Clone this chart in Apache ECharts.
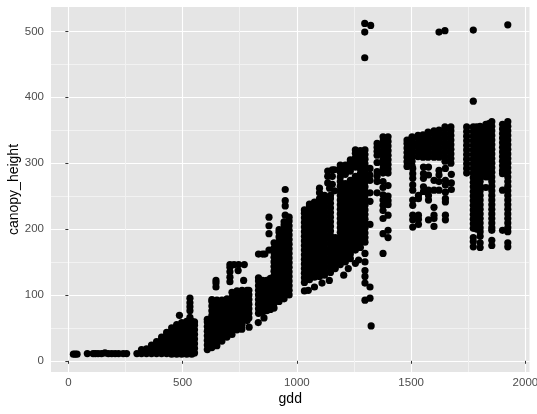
<!DOCTYPE html>
<html>
<head>
<meta charset="utf-8">
<script src="https://cdn.jsdelivr.net/npm/echarts@6/dist/echarts.min.js"></script>
<style>
  html, body { margin: 0; padding: 0; background: #fff; }
  #chart { width: 537px; height: 414px; }
</style>
</head>
<body>
<div id="chart"></div>
<script>
// tick positions
const xTicks = [0, 500, 1000, 1500, 2000];
const xMinorTicks = [250, 750, 1250, 1750];
const yTicks = [0, 100, 200, 300, 400, 500];
const yMinorTicks = [50, 150, 250, 350, 450];

// columns of points: one gdd, many canopy heights
const flatGdd = [22, 30, 38, 83, 108, 118, 130, 145, 160, 175, 190, 205, 220, 240, 255];
const flatHeights = [[10], [10], [10], [11], [11], [11], [11], [11], [12], [11], [11], [11], [11], [11], [11]];

const rampGdd = [300, 320, 342, 364, 386, 408, 430, 452, 474, 496, 518, 540, 552];
const rampHeights = [
  [11],
  [11, 17],
  [11, 18],
  [11, 17, 24],
  [11, 18, 25, 29],
  [11, 18, 25, 32, 36],
  [11, 18, 25, 32, 39, 43],
  [10, 17, 24, 31, 38, 45, 50],
  [10, 17, 24, 31, 38, 45, 52, 55],
  [10, 17, 24, 31, 38, 45, 52, 58],
  [10, 17, 24, 31, 38, 45, 52, 59, 60],
  [10, 17, 24, 31, 38, 45, 52, 59, 60],
  [12, 19, 26, 33, 40, 47, 54, 59]
];

const secondGdd = [608, 628, 650, 672, 694, 716, 738, 760, 782, 790];
const secondHeights = [
  [17, 24, 31, 38, 45, 52, 59, 63],
  [20, 27, 34, 41, 48, 55, 62, 69, 76, 83, 90, 93],
  [23, 30, 37, 44, 51, 58, 65, 72, 79, 86, 92],
  [30, 37, 44, 51, 58, 65, 72, 79, 86, 92],
  [36, 43, 50, 57, 64, 71, 78, 85, 92, 94],
  [40, 47, 54, 61, 68, 75, 82, 89, 96, 104],
  [47, 54, 61, 68, 75, 82, 89, 96, 103, 106],
  [55, 62, 69, 76, 83, 90, 97, 104, 107],
  [61, 68, 75, 82, 89, 96, 103, 107],
  [65, 72, 79, 86, 93, 100, 107]
];

const thirdGdd = [832, 850, 868, 884, 900, 922, 944, 966];
const thirdHeights = [
  [72, 79, 86, 93, 100, 107, 114, 121, 126],
  [74, 81, 88, 95, 102, 109, 116, 122],
  [76, 83, 90, 97, 104, 111, 118, 122],
  [78, 85, 92, 99, 106, 113, 120, 125],
  [80, 87, 94, 101, 108, 115, 122, 129, 136, 143, 150, 157, 164, 171, 179],
  [90, 97, 104, 111, 118, 125, 132, 139, 146, 153, 160, 167, 174, 181, 188, 195, 199],
  [94, 101, 108, 115, 122, 129, 136, 143, 150, 157, 164, 171, 178, 185, 192, 199, 206, 211],
  [100, 107, 114, 121, 128, 135, 142, 149, 156, 163, 170, 177, 184, 191, 198, 205, 212, 218]
];

const fourthGdd = [1033, 1055, 1077, 1099, 1121, 1147, 1168];
const fourthHeights = [
  [119, 126, 133, 140, 147, 154, 161, 168, 175, 182, 189, 196, 203, 210, 217, 224, 229],
  [123, 130, 137, 144, 151, 158, 165, 172, 179, 186, 193, 200, 207, 214, 221, 228, 235, 238],
  [127, 134, 141, 148, 155, 162, 169, 176, 183, 190, 197, 204, 211, 218, 225, 232, 239, 241],
  [128, 135, 142, 149, 156, 163, 170, 177, 184, 191, 198, 205, 212, 219, 226, 233, 240, 246],
  [130, 137, 144, 151, 158, 165, 172, 179, 186, 193, 200, 207, 214, 221, 228, 235, 242, 249, 251],
  [134, 141, 148, 155, 162, 169, 176, 183, 190, 197, 204, 211, 218, 225, 232, 239, 246, 251],
  [140, 147, 154, 161, 168, 175, 182, 187]
];

const fifthGdd = [1190, 1212, 1234, 1256, 1278, 1298];
const fifthHeights = [
  [146, 153, 160, 167, 174, 181, 188, 195, 202, 209, 216, 223, 230, 237, 244, 251, 258, 265, 272, 279, 286, 293, 297],
  [150, 157, 164, 171, 178, 185, 192, 199, 206, 213, 220, 227, 234, 241, 248, 255, 262, 269, 283, 290, 297],
  [155, 162, 169, 176, 183, 190, 197, 204, 211, 218, 225, 232, 239, 246, 253, 260, 267, 274, 288, 295, 302, 305],
  [168, 175, 182, 189, 196, 203, 210, 217, 224, 231, 238, 245, 252, 259, 266, 273, 280, 294, 301, 308, 315, 320],
  [172, 179, 186, 193, 200, 207, 214, 221, 228, 235, 242, 249, 256, 263, 270, 277, 284, 291, 298, 305, 312, 319],
  [180, 187, 194, 201, 208, 215, 222, 229, 236, 243, 250, 257, 264, 271, 278, 285, 292, 299, 306, 313, 320]
];

const sixthGdd = [1320, 1351, 1377, 1399];
const sixthHeights = [
  [292, 282, 274, 255, 242, 207, 112, 95],
  [330, 324, 318, 312, 301, 287, 280, 272, 255],
  [340, 333, 326, 319, 312, 305, 298, 291, 285, 272, 263, 252, 244, 236, 228, 216, 193, 163],
  [340, 333, 326, 319, 312, 305, 298, 291, 285, 266, 250, 243, 237, 221, 198, 187]
];

const seventhGdd = [1482, 1504, 1507, 1530, 1532, 1552, 1554, 1574, 1576, 1600, 1622, 1648, 1650, 1674, 1676];
const seventhHeights = [
  [295, 302, 309, 316, 323, 330, 335],
  [296, 303, 310, 317, 324, 331, 338, 340],
  [292, 284, 277, 267, 259, 244, 236, 221, 214, 203],
  [310, 317, 324, 331, 338, 342],
  [251, 246, 221, 215, 207],
  [309, 316, 323, 330, 337, 343],
  [294, 284, 277, 264, 257],
  [309, 316, 323, 330, 337, 344, 347],
  [294, 282, 259, 251, 244, 214],
  [309, 316, 323, 330, 337, 344, 349, 274, 259, 233, 221, 216, 204],
  [309, 316, 323, 330, 337, 344, 350, 289, 282, 272, 259],
  [303, 310, 317, 324, 331, 338, 345, 352, 355],
  [292, 274, 267, 256, 246, 241, 221, 214],
  [300, 307, 314, 321, 328, 335, 342, 349, 355],
  [283, 270, 260]
];

const eighthGdd = [1743, 1772, 1787, 1802, 1827, 1840, 1853, 1900, 1923];
const eighthHeights = [
  [355, 348, 341, 334, 327, 320, 313, 306, 299, 292, 285],
  [355, 348, 341, 334, 327, 320, 313, 306, 299, 292, 285, 278, 271, 264, 257, 250, 243, 236, 229, 222, 215, 208, 201, 187, 181, 173],
  [355, 348, 341, 334, 327, 320, 313, 306, 299, 292, 285, 278, 271, 264, 257, 250, 243, 236, 229, 222, 215, 208, 200],
  [356, 349, 342, 335, 328, 321, 314, 307, 300, 293, 286, 279, 272, 265, 258, 251, 244, 237, 230, 223, 216, 209, 202, 196, 189, 179, 172],
  [359, 352, 345, 338, 331, 324, 317, 310, 303, 296, 289, 282, 279, 263],
  [360, 353, 346, 339, 332, 325, 318, 311, 304, 297, 290, 283, 279],
  [363, 356, 349, 342, 335, 328, 321, 314, 307, 300, 293, 286, 279, 272, 265, 258, 251, 244, 237, 230, 223, 216, 209, 202, 198, 183, 175],
  [359, 352, 345, 338, 331, 324, 317, 310, 303, 296, 289, 284, 259, 198],
  [363, 356, 349, 342, 335, 328, 321, 314, 307, 300, 293, 286, 279, 272, 265, 258, 251, 244, 237, 230, 223, 216, 209, 202, 196, 179, 173]
];

// single points around the blocks
const looseGdd = [486, 532, 532, 532, 532, 532, 646, 646, 646, 707, 707, 707, 707, 707, 725, 745, 770, 743, 767, 791, 759,
  831, 856, 832, 850, 860, 878, 878, 878, 878, 949, 949, 949, 949,
  1033, 1050, 1077, 1110, 1142, 1099, 1099, 1135, 1135, 1135, 1143, 1155, 1155, 1155, 1165, 1165,
  1256, 1270, 1298, 1298, 1205, 1225, 1298, 1298, 1298, 1298, 1325,
  1297, 1323, 1297, 1297, 1622, 1648, 1772, 1923, 1772];
const looseHeights = [69, 66, 76, 82, 88, 95, 112, 118, 122, 120, 127, 135, 142, 146, 146, 146, 146, 137, 122, 51, 48,
  58, 65, 162, 162, 162, 168, 193, 205, 218, 221, 235, 243, 260,
  106, 107, 112, 118, 122, 262, 255, 288, 280, 270, 262, 290, 280, 268, 258, 290,
  148, 153, 163, 150, 130, 140, 137, 128, 118, 92, 53,
  512, 509, 499, 460, 499, 501, 502, 510, 394];

const columns = [
  [flatGdd, flatHeights], [rampGdd, rampHeights], [secondGdd, secondHeights], [thirdGdd, thirdHeights],
  [fourthGdd, fourthHeights], [fifthGdd, fifthHeights], [sixthGdd, sixthHeights],
  [seventhGdd, seventhHeights], [eighthGdd, eighthHeights]
];

let points = [];
columns.forEach(function (c) {
  c[0].forEach(function (g, i) {
    c[1][i].forEach(function (h) { points.push([g, h]); });
  });
});
looseGdd.forEach(function (g, i) { points.push([g, looseHeights[i]]); });

const labelFont = 'Liberation Sans';
const xRange = { min: -76, max: 2018 };
const yRange = { min: -17, max: 537 };
const plainLabel = function (v) { return String(v); };

let chart = echarts.init(document.getElementById('chart'), null, { renderer: 'canvas' });
chart.setOption({
  animation: false,
  backgroundColor: '#fff',
  grid: { left: 51, top: 7, width: 478.5, height: 365, backgroundColor: '#E5E5E5', show: true, borderWidth: 0, outerBoundsMode: 'none' },
  xAxis: [
    {
      type: 'value', min: xRange.min, max: xRange.max, name: 'gdd', nameLocation: 'middle', nameGap: 20, nameMoveOverlap: false,
      nameTextStyle: { color: '#000', fontFamily: labelFont, fontSize: 14 },
      axisLine: { show: false },
      axisTick: { show: true, length: 3, customValues: xTicks, lineStyle: { color: '#333', width: 1 } },
      axisLabel: { customValues: xTicks, formatter: plainLabel, color: '#4D4D4D', fontFamily: labelFont, fontSize: 11.5, margin: 5 },
      splitLine: { show: true, lineStyle: { color: '#fff', width: 1.1 } }
    },
    {
      type: 'value', min: xRange.min, max: xRange.max, position: 'bottom',
      axisLine: { show: false },
      axisTick: { show: false, customValues: xMinorTicks },
      axisLabel: { show: false },
      splitLine: { show: true, lineStyle: { color: '#F2F2F2', width: 1 } }
    }
  ],
  yAxis: [
    {
      type: 'value', min: yRange.min, max: yRange.max, name: 'canopy_height', nameLocation: 'middle', nameGap: 30, nameMoveOverlap: false,
      nameTextStyle: { color: '#000', fontFamily: labelFont, fontSize: 14 },
      axisLine: { show: false },
      axisTick: { show: true, length: 3, customValues: yTicks, lineStyle: { color: '#333', width: 1 } },
      axisLabel: { customValues: yTicks, formatter: plainLabel, color: '#4D4D4D', fontFamily: labelFont, fontSize: 11.5, margin: 7 },
      splitLine: { show: true, lineStyle: { color: '#fff', width: 1.1 } }
    },
    {
      type: 'value', min: yRange.min, max: yRange.max, position: 'left',
      axisLine: { show: false },
      axisTick: { show: false, customValues: yMinorTicks },
      axisLabel: { show: false },
      splitLine: { show: true, lineStyle: { color: '#F2F2F2', width: 1 } }
    }
  ],
  series: [
    {
      type: 'scatter',
      data: points,
      symbol: 'circle',
      symbolSize: 7.2,
      itemStyle: { color: '#000', opacity: 1 },
      silent: true,
      large: false
    }
  ]
});
</script>
</body>
</html>
